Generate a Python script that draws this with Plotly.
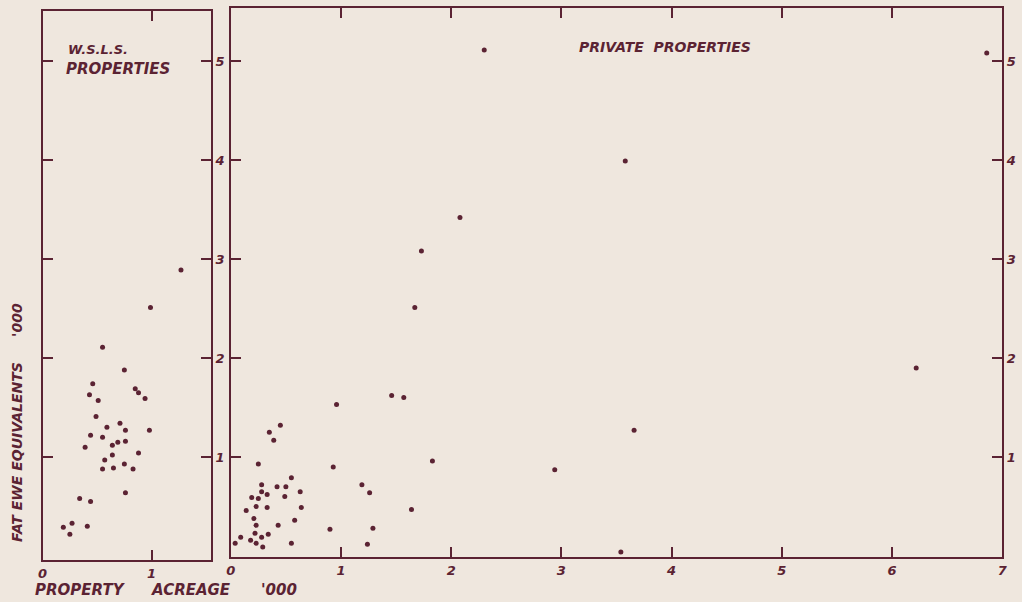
import plotly.graph_objects as go

# ---- data (thousand acres, thousand fat ewe equivalents) ----
wsls_acreage = [1.27, 0.99, 0.55, 0.75, 0.46, 0.43, 0.51, 0.85, 0.88, 0.94, 0.49, 0.59,
                0.71, 0.76, 0.98, 0.44, 0.55, 0.39, 0.64, 0.69, 0.76, 0.64, 0.88, 0.57,
                0.55, 0.65, 0.75, 0.83, 0.76, 0.34, 0.44, 0.19, 0.27, 0.25, 0.41]
wsls_ewes = [2.89, 2.51, 2.11, 1.88, 1.74, 1.63, 1.57, 1.69, 1.65, 1.59, 1.41, 1.30,
             1.34, 1.27, 1.27, 1.22, 1.20, 1.10, 1.12, 1.15, 1.16, 1.02, 1.04, 0.97,
             0.88, 0.89, 0.93, 0.88, 0.64, 0.58, 0.55, 0.29, 0.33, 0.22, 0.30]

private_acreage = [2.30, 6.86, 3.58, 2.08, 1.73, 1.67, 6.22, 3.66, 2.94, 3.54,
                   0.96, 1.46, 1.57, 1.83, 1.19, 1.26, 1.64, 0.90, 1.29, 1.24,
                   0.45, 0.35, 0.39, 0.25, 0.93, 0.55, 0.28, 0.42, 0.50, 0.28,
                   0.33, 0.63, 0.19, 0.25, 0.49, 0.23, 0.33, 0.64, 0.14, 0.21,
                   0.23, 0.43, 0.58, 0.22, 0.34, 0.09, 0.18, 0.28, 0.23, 0.29,
                   0.04, 0.55]
private_ewes = [5.11, 5.08, 3.99, 3.42, 3.08, 2.51, 1.90, 1.27, 0.87, 0.04,
                1.53, 1.62, 1.60, 0.96, 0.72, 0.64, 0.47, 0.27, 0.28, 0.12,
                1.32, 1.25, 1.17, 0.93, 0.90, 0.79, 0.72, 0.70, 0.70, 0.65,
                0.62, 0.65, 0.59, 0.58, 0.60, 0.50, 0.49, 0.49, 0.46, 0.38,
                0.31, 0.31, 0.36, 0.23, 0.22, 0.19, 0.16, 0.19, 0.13, 0.09,
                0.13, 0.13]

left_xticks = [0, 1]
right_xticks = [0, 1, 2, 3, 4, 5, 6, 7]
y_ticks = [1, 2, 3, 4, 5]

INK = "#5b2333"
BG = "#efe7de"
W, H = 1022, 602

fig = go.Figure()
fig.add_trace(go.Scatter(x=wsls_acreage, y=wsls_ewes, mode="markers",
                         marker=dict(size=5, color=INK), xaxis="x", yaxis="y",
                         showlegend=False))
fig.add_trace(go.Scatter(x=private_acreage, y=private_ewes, mode="markers",
                         marker=dict(size=5, color=INK), xaxis="x2", yaxis="y2",
                         showlegend=False))

tickfont = dict(family="DejaVu Sans", size=13, color=INK, weight="bold", style="italic")
axis_common = dict(showline=True, linecolor=INK, linewidth=2, mirror="ticks",
                   ticks="inside", ticklen=10, tickwidth=2, tickcolor=INK,
                   showgrid=False, zeroline=False, tickfont=tickfont, fixedrange=True)

def px_x(p):
    return p / W

def px_y(p):
    return 1 - p / H

fig.update_layout(
    width=W, height=H,
    margin=dict(l=0, r=0, t=0, b=0),
    paper_bgcolor=BG, plot_bgcolor=BG,
    xaxis=dict(domain=[px_x(38), px_x(208)], range=[0, 1.545], anchor="y",
               tickmode="array", tickvals=left_xticks,
               ticktext=[str(v) for v in left_xticks], **axis_common),
    yaxis=dict(domain=[px_y(560), px_y(11)], range=[-0.04, 5.505], anchor="x",
               side="right", tickmode="array", tickvals=y_ticks,
               ticktext=[str(v) for v in y_ticks], **axis_common),
    xaxis2=dict(domain=[px_x(228), px_x(1007)], range=[0, 7.0], anchor="y2",
                tickmode="array", tickvals=right_xticks,
                ticktext=[str(v) for v in right_xticks], **axis_common),
    yaxis2=dict(domain=[px_y(557), px_y(8)], range=[-0.01, 5.535], anchor="x2",
                side="right", tickmode="array", tickvals=y_ticks,
                ticktext=[str(v) for v in y_ticks], **axis_common),
)

labfont = dict(family="DejaVu Sans", size=12, color=INK, weight="bold", style="italic")

def note(text, x, y, xanchor="left", size=12, angle=0):
    f = dict(labfont)
    f["size"] = size
    fig.add_annotation(text=text, x=px_x(x), y=px_y(y), xref="paper", yref="paper",
                       xanchor=xanchor, yanchor="middle", showarrow=False,
                       font=f, textangle=angle)

note("W.S.L.S.", 62, 50, size=13)
note("PROPERTIES", 60, 69, size=15)
note("PRIVATE&nbsp;&nbsp;PROPERTIES", 578, 47, size=14)
note("PROPERTY", 28, 590, size=15)
note("ACREAGE", 145, 590, size=15)
note("'000", 257, 590, size=15)
note("FAT&nbsp;EWE&nbsp;EQUIVALENTS", 12, 452, xanchor="center", size=14, angle=-90)
note("'000", 12, 320, xanchor="center", size=14, angle=-90)

fig.write_html(
    "out.html",
    config={"displayModeBar": False},
    post_script="document.body.style.margin='0';document.body.style.background='" + BG + "';",
)
